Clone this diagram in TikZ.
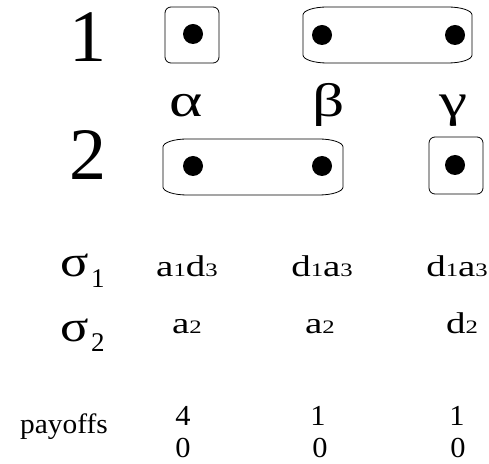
\documentclass[tikz,border=0pt]{standalone}
\usepackage{fontspec}
\setmainfont{Liberation Serif}
\newfontfamily\widefont[FakeStretch=1.3]{Liberation Serif}
\newfontfamily\greekfont[FakeStretch=1.35]{Liberation Serif}
\newfontfamily\sigmafont[FakeStretch=1.2]{Liberation Serif}
\newfontfamily\payfont[FakeStretch=1.05]{Liberation Serif}
\newcommand\smd[1]{{\fontsize{19}{22}\selectfont #1}}
\begin{document}
\begin{tikzpicture}[x=1pt,y=1pt,
  infoset/.style={draw=black,line width=0.8pt},
  dotnode/.style={circle,fill=black,inner sep=0pt,minimum size=20pt},
  playerlab/.style={anchor=base,font=\fontsize{74}{76}\selectfont,inner sep=0pt},
  greeklab/.style={anchor=base,font=\greekfont\fontsize{47}{50}\selectfont,inner sep=0pt},
  sigmalab/.style={anchor=base west,inner sep=0pt,font=\sigmafont\fontsize{44}{48}\selectfont},
  sublab/.style={anchor=base west,inner sep=0pt,font=\fontsize{27}{30}\selectfont},
  stratlab/.style={anchor=base,font=\widefont\fontsize{30}{33}\selectfont,inner sep=0pt},
  paylab/.style={anchor=base,font=\payfont\fontsize{29}{32}\selectfont,inner sep=0pt}]
\useasboundingbox (0,0) rectangle (489,463);
% player labels
\node[playerlab] (p1) at (88,401) {1};
\node[playerlab] (p2) at (88,283) {2};
% information sets
\draw[infoset,rounded corners=6pt] (165,456) rectangle (219,400);
\draw[infoset] (327,456) -- (448,456) arc[start angle=90,end angle=0,x radius=24,y radius=8]
  -- (472,408) arc[start angle=0,end angle=-90,x radius=24,y radius=8]
  -- (327,400) arc[start angle=270,end angle=180,x radius=24,y radius=8]
  -- (303,448) arc[start angle=180,end angle=90,x radius=24,y radius=8] -- cycle;
\draw[infoset] (187,324) -- (319,324) arc[start angle=90,end angle=0,x radius=24,y radius=8]
  -- (343,276) arc[start angle=0,end angle=-90,x radius=24,y radius=8]
  -- (187,268) arc[start angle=270,end angle=180,x radius=24,y radius=8]
  -- (163,316) arc[start angle=180,end angle=90,x radius=24,y radius=8] -- cycle;
\draw[infoset,rounded corners=6pt] (429,326) rectangle (483,269);
% decision nodes
\node[dotnode] (t1) at (193,429) {};
\node[dotnode] (t2) at (322,428) {};
\node[dotnode] (t3) at (455,428) {};
\node[dotnode] (b1) at (193,297) {};
\node[dotnode] (b2) at (322,297) {};
\node[dotnode] (b3) at (455,298) {};
% state labels
\node[greeklab] (ga) at (186,346) {α};
\node[greeklab] (gb) at (329,346) {β};
\node[greeklab] (gc) at (454,346) {γ};
% strategy labels
\node[sigmalab] (s1) at (60,186) {σ};
\node[sublab] (s1i) at (91,175) {1};
\node[sigmalab] (s2) at (60,122) {σ};
\node[sublab] (s2i) at (91,112) {2};
\node[stratlab] (a11) at (187,186) {a\smd{1}d\smd{3}};
\node[stratlab] (a12) at (322,186) {d\smd{1}a\smd{3}};
\node[stratlab] (a13) at (457,186) {d\smd{1}a\smd{3}};
\node[stratlab] (a21) at (187,130) {a\smd{2}};
\node[stratlab] (a22) at (320,130) {a\smd{2}};
\node[stratlab] (a23) at (462,130) {d\smd{2}};
% payoffs
\node[anchor=base west,inner sep=0pt,font=\payfont\fontsize{28}{31}\selectfont] (pay) at (20,30) {payoffs};
\node[paylab] (u11) at (183,38) {4};
\node[paylab] (u12) at (318,38) {1};
\node[paylab] (u13) at (457,38) {1};
\node[paylab] (u21) at (183,6) {0};
\node[paylab] (u22) at (320,6) {0};
\node[paylab] (u23) at (458,6) {0};
\end{tikzpicture}
\end{document}
